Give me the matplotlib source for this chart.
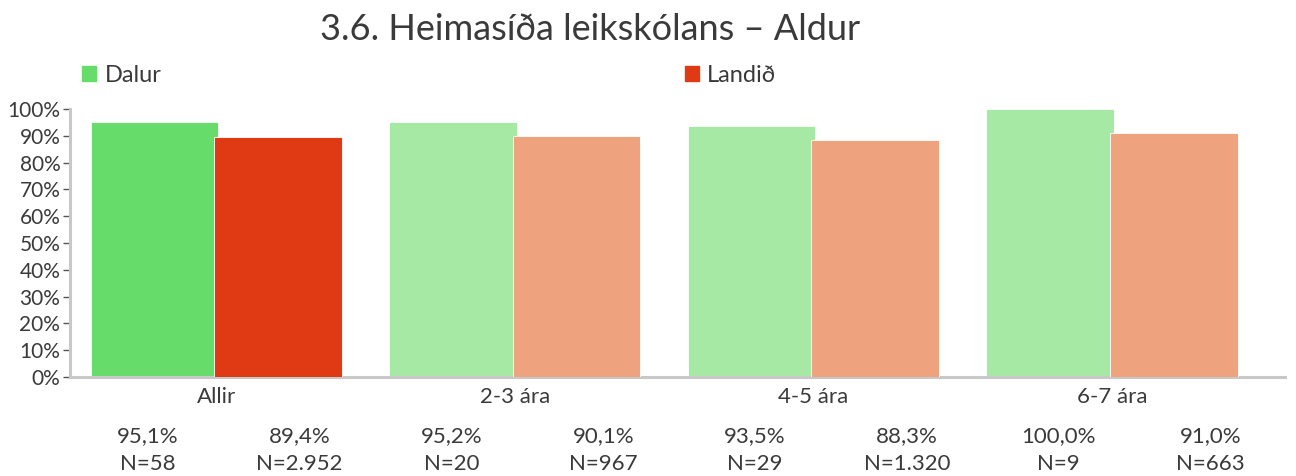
import numpy as np
import matplotlib
matplotlib.use("Agg")
import matplotlib.pyplot as plt
from matplotlib.patches import Patch

plt.rcParams['font.family'] = ['Lato', 'DejaVu Sans']

# Data
groups = ["Allir", "2-3 ára", "4-5 ára", "6-7 ára"]
dalur = [95.1, 95.2, 93.5, 100.0]
landid = [89.4, 90.1, 88.3, 91.0]
dalur_n = ["58", "20", "29", "9"]
landid_n = ["2.952", "967", "1.320", "663"]

dalur_colors = ["#66DC6A", "#A5E9A5", "#A5E9A5", "#A5E9A5"]
landid_colors = ["#DF3A14", "#EEA27D", "#EEA27D", "#EEA27D"]
text_color = "#3A3A3A"

fig = plt.figure(figsize=(12.96, 4.76), dpi=100)
ax = fig.add_axes([0.054, 0.208, 0.9375, 0.563])

x = np.arange(len(groups))
w = 0.428
ax.bar(x - 0.207, dalur, width=w, color=dalur_colors,
       edgecolor="#FFFFFF", linewidth=0.6, zorder=2)
ax.bar(x + 0.207, landid, width=w, color=landid_colors,
       edgecolor="#FFFFFF", linewidth=0.6, zorder=3)

ax.set_ylim(0, 100)
ax.set_xlim(-0.49, 3.58)
ax.set_yticks(np.arange(0, 101, 10))
ax.set_yticklabels([f"{v}%" for v in range(0, 101, 10)])
ax.set_xticks(x)
ax.set_xticklabels(groups)

for s in ["top", "right"]:
    ax.spines[s].set_visible(False)
for s in ["left", "bottom"]:
    ax.spines[s].set_color("#C8C8C8")
    ax.spines[s].set_linewidth(2.2)
ax.tick_params(axis="y", length=5, width=1, color="#555555",
               labelsize=15, labelcolor=text_color, pad=2)
ax.tick_params(axis="x", length=0, labelsize=16, labelcolor=text_color, pad=7)

# value and N rows beneath the axis, laid out as equal columns
vals = []
ns = []
for d, l, dn, ln in zip(dalur, landid, dalur_n, landid_n):
    vals += [f"{d:.1f}%".replace(".", ","), f"{l:.1f}%".replace(".", ",")]
    ns += ["N=" + dn, "N=" + ln]
cols = np.linspace(0.114, 0.934, 8)
for cx, v, n in zip(cols, vals, ns):
    fig.text(cx, 0.084, v, ha="center", va="center", fontsize=16, color=text_color)
    fig.text(cx, 0.026, n, ha="center", va="center", fontsize=16, color=text_color)

fig.text(0.455, 0.937, "3.6. Heimasíða leikskólans – Aldur",
         ha="center", va="center", fontsize=26, color=text_color)

# legend entries
fig.legend(handles=[Patch(color="#66DC6A")], labels=["Dalur"],
           loc="center left", bbox_to_anchor=(0.047, 0.842), frameon=False,
           fontsize=17, handlelength=0.6, handleheight=0.6,
           handletextpad=0.35, labelcolor=text_color)
fig.legend(handles=[Patch(color="#DF3A14")], labels=["Landið"],
           loc="center left", bbox_to_anchor=(0.512, 0.842), frameon=False,
           fontsize=17, handlelength=0.6, handleheight=0.6,
           handletextpad=0.35, labelcolor=text_color)

fig.savefig("out.png", dpi=100)
